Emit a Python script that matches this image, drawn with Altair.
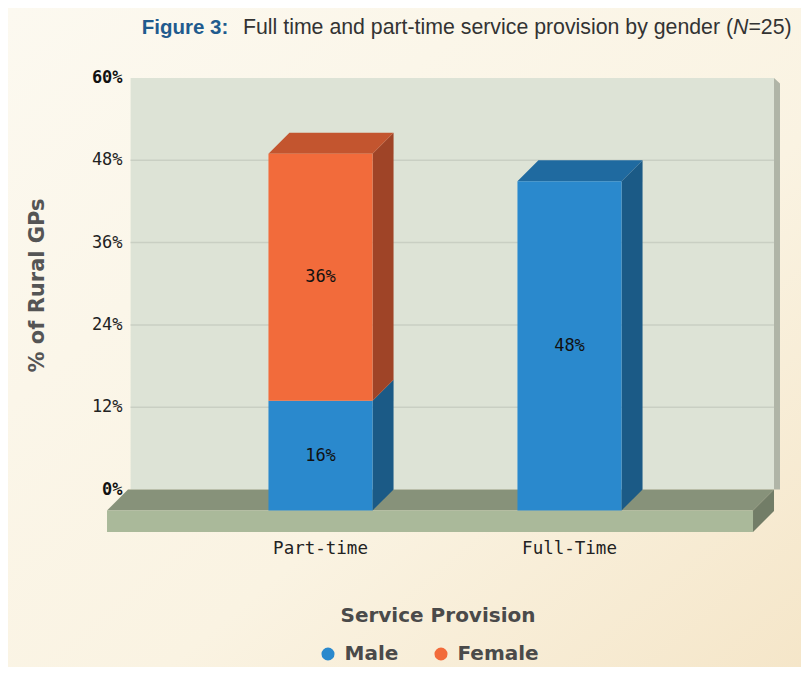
import altair as alt
import pandas as pd

# ---------------- data ----------------
categories = ["Part-time", "Full-Time"]
genders = ["Male", "Female"]
male_pct = [16, 48]
female_pct = [36, 0]
y_ticks = [0, 12, 24, 36, 48, 60]
bold_ticks = [0, 60]
grid_ticks = [12, 24, 36, 48]

# ---------------- style ----------------
FRONT = {"Male": "#2a89cd", "Female": "#f26b3b"}
SIDE = {"Male": "#1b5a86", "Female": "#9f4427"}
TOP = {"Male": "#1f6aa0", "Female": "#c3552f"}
WALL_COL = "#dde3d6"
WALL_SIDE_COL = "#b0b5a7"
GRID_COL = "#c9cfc3"
FLOOR_TOP_COL = "#87927a"
FLOOR_FRONT_COL = "#aab99a"
FLOOR_SIDE_COL = "#727d67"

DX = 0.0843   # 3D depth in x units
DY = 3.06     # 3D depth in % units
HW = 0.209    # half bar width (x units)
THICK = 3.13  # floor thickness (% units)
WALL = (0.153, 2.737)
FLOOR = (0.1426, 2.737)
WALL_SIDE_W = 0.024

xs = alt.Scale(domain=[1, 2], range=[233.5, 482.5], nice=False, zero=False)
ys = alt.Scale(domain=[0, 60], range=[411.5, 0], nice=False, zero=False)

# ---------------- geometry tables built from the data ----------------
front_rows, side_rows, top_rows, lab_rows, cat_rows = [], [], [], [], []
for i, cat in enumerate(categories):
    c = i + 1
    cat_rows.append(dict(x=c - DX, cat=cat))
    segs = [(g, v) for g, v in zip(genders, [male_pct[i], female_pct[i]]) if v > 0]
    base = 0
    for j, (g, v) in enumerate(segs):
        top = base + v
        sid = f"{cat}-{g}"
        front_rows.append(dict(seg=sid, gender=g, x1=c - HW - DX, x2=c + HW - DX,
                               y1=base - DY, y2=top - DY))
        side_rows += [dict(seg=sid, fill=SIDE[g], x=c + HW - DX, lo=base - DY, hi=top - DY),
                      dict(seg=sid, fill=SIDE[g], x=c + HW, lo=base, hi=top)]
        if j == len(segs) - 1:
            top_rows += [dict(seg=sid, fill=TOP[g], y=top - DY, lo=c - HW - DX, hi=c + HW - DX),
                         dict(seg=sid, fill=TOP[g], y=top, lo=c - HW, hi=c + HW)]
        lab_rows.append(dict(x=c - DX, y=(base + top) / 2 - DY, text=f"{v}%"))
        base = top

front_df = pd.DataFrame(front_rows)
side_df = pd.DataFrame(side_rows)
top_df = pd.DataFrame(top_rows)
lab_df = pd.DataFrame(lab_rows)
cat_df = pd.DataFrame(cat_rows)

wall_df = pd.DataFrame([dict(x1=WALL[0], x2=WALL[1], y1=0, y2=60)])
wall_side_df = pd.DataFrame([dict(x=WALL[1], lo=0, hi=60),
                             dict(x=WALL[1] + WALL_SIDE_W, lo=0, hi=60 - 0.8)])
grid_df = pd.DataFrame(dict(y=grid_ticks, x1=WALL[0], x2=WALL[1]))
floor_top_df = pd.DataFrame([dict(y=0, lo=FLOOR[0], hi=FLOOR[1]),
                             dict(y=-DY, lo=FLOOR[0] - DX, hi=FLOOR[1] - DX)])
floor_front_df = pd.DataFrame([dict(x1=FLOOR[0] - DX, x2=FLOOR[1] - DX, y1=-DY - THICK, y2=-DY)])
floor_side_df = pd.DataFrame([dict(x=FLOOR[1] - DX, lo=-DY - THICK, hi=-DY),
                              dict(x=FLOOR[1], lo=-THICK, hi=0)])
tick_df = pd.DataFrame(dict(y=y_ticks, x=WALL[0], label=[f"{t}%" for t in y_ticks],
                            bold=[t in bold_ticks for t in y_ticks]))


def X(f):
    return alt.X(f, scale=xs, axis=None)


def Y(f):
    return alt.Y(f, scale=ys, axis=None, stack=None)


one = pd.DataFrame({"k": [0]})

# parchment-like background wash
bg = alt.Chart(one).mark_rect(
    opacity=1,
    color=alt.Gradient(gradient="linear", x1=0, x2=1, y1=0, y2=1,
                       stops=[alt.GradientStop(color="#fcf9f0", offset=0),
                              alt.GradientStop(color="#faf3e2", offset=0.6),
                              alt.GradientStop(color="#f5e6c9", offset=1)])
).encode(x=alt.value(-100), x2=alt.value(693), y=alt.value(-70), y2=alt.value(589))

wall = alt.Chart(wall_df).mark_rect(color=WALL_COL, opacity=1).encode(
    x=X("x1:Q"), x2="x2:Q", y=Y("y1:Q"), y2="y2:Q")
wall_side = alt.Chart(wall_side_df).mark_area(color=WALL_SIDE_COL, opacity=1, orient="vertical").encode(
    x=X("x:Q"), y=Y("hi:Q"), y2="lo:Q")
grid = alt.Chart(grid_df).mark_rule(color=GRID_COL, strokeWidth=1.5).encode(
    x=X("x1:Q"), x2="x2:Q", y=Y("y:Q"))
floor_top = alt.Chart(floor_top_df).mark_area(color=FLOOR_TOP_COL, opacity=1, orient="horizontal").encode(
    y=Y("y:Q"), x=X("lo:Q"), x2="hi:Q")
floor_front = alt.Chart(floor_front_df).mark_rect(color=FLOOR_FRONT_COL, opacity=1).encode(
    x=X("x1:Q"), x2="x2:Q", y=Y("y1:Q"), y2="y2:Q")
floor_side = alt.Chart(floor_side_df).mark_area(color=FLOOR_SIDE_COL, opacity=1, orient="vertical").encode(
    x=X("x:Q"), y=Y("hi:Q"), y2="lo:Q")

bar_side = alt.Chart(side_df).mark_area(opacity=1, orient="vertical").encode(
    x=X("x:Q"), y=Y("hi:Q"), y2="lo:Q", detail="seg:N", fill=alt.Fill("fill:N", scale=None))
bar_top = alt.Chart(top_df).mark_area(opacity=1, orient="horizontal").encode(
    y=Y("y:Q"), x=X("lo:Q"), x2="hi:Q", detail="seg:N", fill=alt.Fill("fill:N", scale=None))
bar_front = alt.Chart(front_df).mark_rect(opacity=1).encode(
    x=X("x1:Q"), x2="x2:Q", y=Y("y1:Q"), y2="y2:Q",
    color=alt.Color("gender:N",
                    scale=alt.Scale(domain=genders, range=[FRONT[g] for g in genders]),
                    legend=alt.Legend(orient="none", legendX=210, legendY=566,
                                      direction="horizontal", title=None,
                                      symbolType="circle", symbolSize=170,
                                      symbolStrokeWidth=0, symbolOpacity=1,
                                      labelFont="DejaVu Sans", labelFontSize=20,
                                      labelFontWeight="bold", labelColor="#4a4a4a",
                                      labelOffset=6.5, columnPadding=32, padding=0,
                                      labelLimit=300)))

val_labels = alt.Chart(lab_df).mark_text(font="DejaVu Sans Mono", fontSize=17, color="#111111",
                                         baseline="middle", align="center").encode(
    x=X("x:Q"), y=Y("y:Q"), text="text:N")

tick_reg = alt.Chart(tick_df).transform_filter("!datum.bold").mark_text(
    font="DejaVu Sans Mono", fontSize=17, color="#222222", align="right", baseline="middle", dx=-8).encode(
    x=X("x:Q"), y=Y("y:Q"), text="label:N")
tick_bold = alt.Chart(tick_df).transform_filter("datum.bold").mark_text(
    font="DejaVu Sans Mono", fontSize=17, fontWeight="bold", color="#111111", align="right",
    baseline="middle", dx=-8).encode(
    x=X("x:Q"), y=Y("y:Q"), text="label:N")

cat_labels = alt.Chart(cat_df).mark_text(font="DejaVu Sans Mono", fontSize=17.5, color="#222222",
                                         align="center", baseline="middle").encode(
    x=X("x:Q"), y=alt.value(471), text="cat:N")


def label(text, x, y, **kw):
    return alt.Chart(one).mark_text(text=text, **kw).encode(x=alt.value(x), y=alt.value(y))


title_parts = [
    label("Figure 3:", 33.7, -44, font="Liberation Sans", fontSize=20.5, fontWeight="bold",
          color="#1f5b8e", align="left", baseline="alphabetic"),
    label("Full time and part-time service provision by gender (", 135, -44, font="Liberation Sans",
          fontSize=21.3, color="#333333", align="left", baseline="alphabetic"),
    label("N", 135 + 23.007 * 21.3, -44, font="Liberation Sans", fontSize=21.3, fontStyle="italic",
          color="#333333", align="left", baseline="alphabetic"),
    label("=25)", 135 + 23.729 * 21.3, -44, font="Liberation Sans", fontSize=21.3,
          color="#333333", align="left", baseline="alphabetic"),
]

y_title = label("% of Rural GPs", -70, 207.5, font="DejaVu Sans", fontSize=21, fontWeight="bold",
                color="#555555", angle=270, align="center", baseline="middle")
x_title = label("Service Provision", 330, 543.7, font="DejaVu Sans", fontSize=20, fontWeight="bold",
                color="#4a4a4a", align="center", baseline="alphabetic")

chart = alt.layer(
    bg, wall, wall_side, grid, floor_top, floor_front, floor_side,
    bar_side, bar_top, bar_front, val_labels,
    tick_reg, tick_bold, cat_labels, y_title, x_title, *title_parts
).properties(
    width=670, height=454,
    padding={"left": 100, "top": 70, "right": 23, "bottom": 135},
    autosize=alt.AutoSizeParams(type="none"),
    background="#fbf6ea",
).configure_view(strokeWidth=0)

chart.save("out.html", embed_options={"renderer": "svg", "actions": False})
